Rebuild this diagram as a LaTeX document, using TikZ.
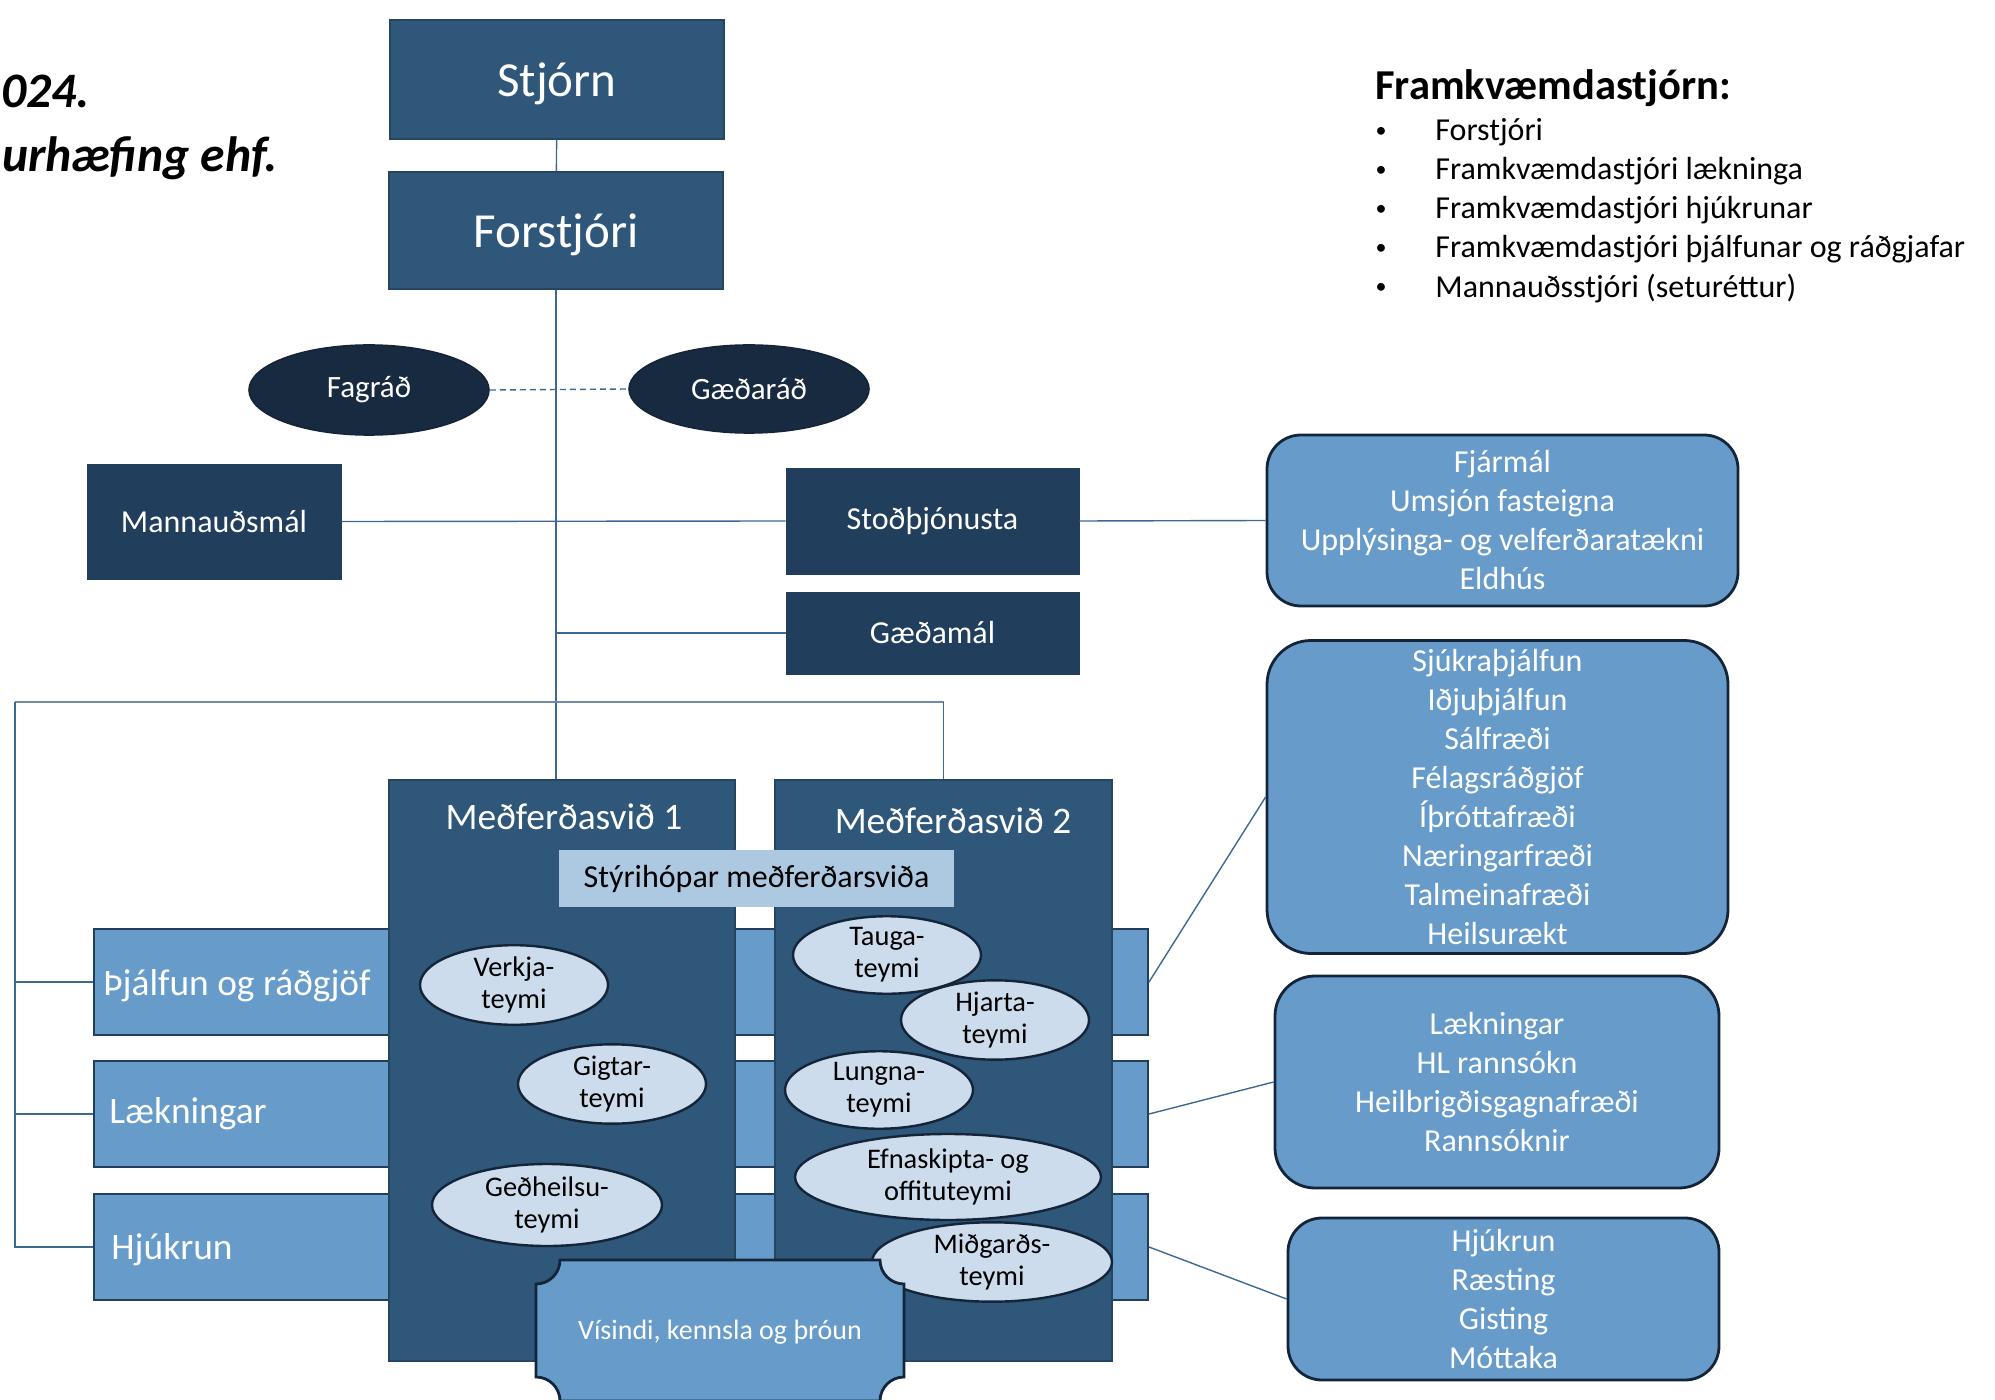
\documentclass[tikz,border=0pt]{standalone}
\usepackage{fontspec}
\setmainfont{Carlito}
\usepackage{tikz}
\usetikzlibrary{shapes.geometric}

\definecolor{boardblue}{HTML}{2E5779}
\definecolor{staffblue}{HTML}{213E5C}
\definecolor{councilblue}{HTML}{172A3F}
\definecolor{bandblue}{HTML}{679CCA}
\definecolor{steerblue}{HTML}{ADC8E1}
\definecolor{teamblue}{HTML}{CDDCEC}
\definecolor{edgeblue}{HTML}{14253A}
\definecolor{linkblue}{HTML}{3D6892}
\definecolor{buslink}{HTML}{6F8BA8}

\begin{document}
\begin{tikzpicture}[
    x=0.5pt, y=-0.5pt,
    box/.style={rectangle, draw=boardblue!80!black, line width=0.8pt, fill=boardblue, text=white, inner sep=0pt, text depth=0pt, minimum width=167pt, font=\fontsize{24.5}{28}\selectfont},
    staffbox/.style={rectangle, draw=staffblue, fill=staffblue, text=white, inner sep=0pt, font=\fontsize{16}{19}\selectfont},
    council/.style={ellipse, draw=edgeblue, line width=0.8pt, fill=councilblue, text=white, inner sep=0pt, font=\fontsize{15.5}{19}\selectfont},
    infobox/.style={rectangle, rounded corners=17pt, draw=edgeblue, line width=1.4pt, fill=bandblue, text=white, align=center, inner sep=0pt, font=\fontsize{16}{19.5}\selectfont},
    band/.style={rectangle, draw=staffblue, line width=1pt, fill=bandblue, minimum width=527pt, minimum height=53pt},
    bandlabel/.style={anchor=west, text=white, inner sep=0pt, font=\fontsize{18.7}{22}\selectfont},
    column/.style={rectangle, draw=boardblue!80!black, line width=0.8pt, fill=boardblue, inner sep=0pt, minimum height=290.5pt},
    coltitle/.style={text=white, font=\fontsize{18.7}{22}\selectfont},
    steer/.style={rectangle, fill=steerblue, inner sep=0pt, minimum width=197.5pt, minimum height=28.5pt, font=\fontsize{16}{19}\selectfont},
    team/.style={ellipse, draw=edgeblue, line width=1.2pt, fill=teamblue, align=center, inner sep=0pt, font=\fontsize{14.2}{16}\selectfont},
    conn/.style={draw=linkblue, line width=0.7pt},
    bus/.style={draw=buslink, line width=1.3pt},
]
    \useasboundingbox (0,0) rectangle (1995,1400);

    % Title (cut at the left edge)
    \node[anchor=base west, inner sep=0pt, font=\fontsize{24.8}{28}\selectfont\bfseries\itshape] (title1) at (1,108) {024.};
    \node[anchor=base west, inner sep=0pt, font=\fontsize{24.8}{28}\selectfont\bfseries\itshape] (title2) at (2,172) {urhæfing ehf.};

    % Executive board
    \node[anchor=west, inner sep=0pt, font=\fontsize{21.3}{24}\selectfont\bfseries] (exec) at (1375,88) {Framkvæmdastjórn:};
    \foreach \txt [count=\i] in {Forstjóri, Framkvæmdastjóri lækninga, Framkvæmdastjóri hjúkrunar, Framkvæmdastjóri þjálfunar og ráðgjafar, Mannauðsstjóri (seturéttur)} {
        \node[inner sep=0pt, font=\fontsize{11}{13}\selectfont] (dot\i) at (1381,93.5+39*\i) {\textbullet};
        \node[anchor=west, inner sep=0pt, font=\fontsize{16}{19}\selectfont] (exec\i) at (1435,93.5+39*\i) {\txt};
    }

    % Top
    \node[box, minimum height=59.5pt] (stjorn) at (557,79.5) {Stjórn};
    \node[box, minimum height=58.5pt] (forstjori) at (556,230.5) {Forstjóri};

    % Councils
    \node[council, minimum width=120pt, minimum height=45pt] (fagrad) at (369,390) {Fagráð};
    \node[council, minimum width=120pt, minimum height=44pt] (gaedarad) at (749,389) {Gæðaráð};

    % Staff units
    \node[staffbox, minimum width=127pt, minimum height=57.5pt] (mannaud) at (214,521.5) {Mannauðsmál};
    \node[staffbox, minimum width=146.5pt, minimum height=53pt] (stod) at (932.5,521) {Stoðþjónusta};
    \node[staffbox, minimum width=146.5pt, minimum height=41pt] (gaedamal) at (932.5,633) {Gæðamál};

    % Right side
    \node[infobox, minimum width=235.5pt, minimum height=85.5pt] (fjarmal) at (1502.5,520.5) {Fjármál\\Umsjón fasteigna\\Upplýsinga- og velferðaratækni\\Eldhús};
    \node[infobox, rounded corners=22pt, minimum width=230.5pt, minimum height=156.5pt] (sjukra) at (1497.5,797) {Sjúkraþjálfun\\Iðjuþjálfun\\Sálfræði\\Félagsráðgjöf\\Íþróttafræði\\Næringarfræði\\Talmeinafræði\\Heilsurækt};
    \node[infobox, rounded corners=20pt, minimum width=222pt, minimum height=106pt] (laekbox) at (1497,1082) {Lækningar\\HL rannsókn\\Heilbrigðisgagnafræði\\Rannsóknir};
    \node[infobox, minimum width=215.5pt, minimum height=81pt] (hjukbox) at (1503.5,1299) {Hjúkrun\\Ræsting\\Gisting\\Móttaka};

    % Bands
    \node[band] (thj) at (621,982) {};
    \node[band] (laek) at (621,1114) {};
    \node[band] (hjuk) at (621,1247) {};
    \node[bandlabel] (thjlabel) at ([xshift=5pt, yshift=-2pt]thj.west) {Þjálfun og ráðgjöf};
    \node[bandlabel] (laeklabel) at ([xshift=8pt]laek.west) {Lækningar};
    \node[bandlabel] (hjuklabel) at ([xshift=9pt, yshift=-1.5pt]hjuk.west) {Hjúkrun};

    % Treatment areas
    \node[column, minimum width=173pt] (med1) at (562,1070.5) {};
    \node[column, minimum width=168.5pt] (med2) at (943.5,1070.5) {};
    \node[coltitle] (med1title) at (564,817) {Meðferðasvið 1};
    \node[coltitle] (med2title) at (953,821) {Meðferðasvið 2};
    \node[steer] (styri) at (756.5,878.5) {Stýrihópar meðferðarsviða};

    % Teams
    \node[team, minimum width=94pt, minimum height=36pt] (verkja) at (514,985) {Verkja-\\teymi};
    \node[team, minimum width=94pt, minimum height=36pt] (gigtar) at (612,1084) {Gigtar-\\teymi};
    \node[team, minimum width=115pt, minimum height=41pt] (gedheilsu) at (547,1205) {Geðheilsu-\\teymi};
    \node[team, minimum width=94pt, minimum height=35pt] (tauga) at (887,955) {Tauga-\\teymi};
    \node[team, minimum width=94pt, minimum height=35pt] (hjarta) at (995,1020) {Hjarta-\\teymi};
    \node[team, minimum width=94pt, minimum height=35pt] (lungna) at (879,1090) {Lungna-\\teymi};
    \node[team, minimum width=153pt, minimum height=43pt] (efnaskipta) at (948,1177) {Efnaskipta- og\\offituteymi};
    \node[team, minimum width=120pt, minimum height=32pt] (midgards) at (992,1262) {Miðgarðs-\\teymi};

    % Science plaque
    \path[fill=bandblue, draw=edgeblue, line width=1.4pt]
        (536,1284) .. controls (549.25,1284) and (560,1273.25) .. (560,1260)
        -- (880,1260) .. controls (880,1273.25) and (890.75,1284) .. (904,1284)
        -- (904,1377) .. controls (890.75,1377) and (880,1387.75) .. (880,1401)
        -- (560,1401) .. controls (560,1387.75) and (549.25,1377) .. (536,1377)
        -- cycle;
    \node[text=white, font=\fontsize{14}{17}\selectfont] (visindi) at (720,1332) {Vísindi, kennsla og þróun};

    % Lines
    \draw[conn] (stjorn) -- (forstjori);
    \draw[conn] (forstjori.south) -- (forstjori.south |- med1.north);
    \draw[conn, densely dashed] (fagrad.east) -- (gaedarad.west);
    \draw[conn] (mannaud.east) -- (stod.west);
    \draw[conn] (stod.east) -- (fjarmal.west);
    \draw[conn] (forstjori.south |- gaedamal.west) -- (gaedamal.west);
    \coordinate (busL) at (15,702);
    \coordinate (busR) at (med2.north |- busL);
    \draw[bus] (busL) -- (busR);
    \draw[conn] (busR) -- (med2.north);
    \draw[conn] (busL) |- (hjuk.west);
    \draw[conn] (busL |- thj.west) -- (thj.west);
    \draw[conn] (busL |- laek.west) -- (laek.west);
    \draw[conn] (thj.east) -- (sjukra.west);
    \draw[conn] (laek.east) -- (laekbox.west);
    \draw[conn] (hjuk.east) -- (hjukbox.west);
\end{tikzpicture}
\end{document}
